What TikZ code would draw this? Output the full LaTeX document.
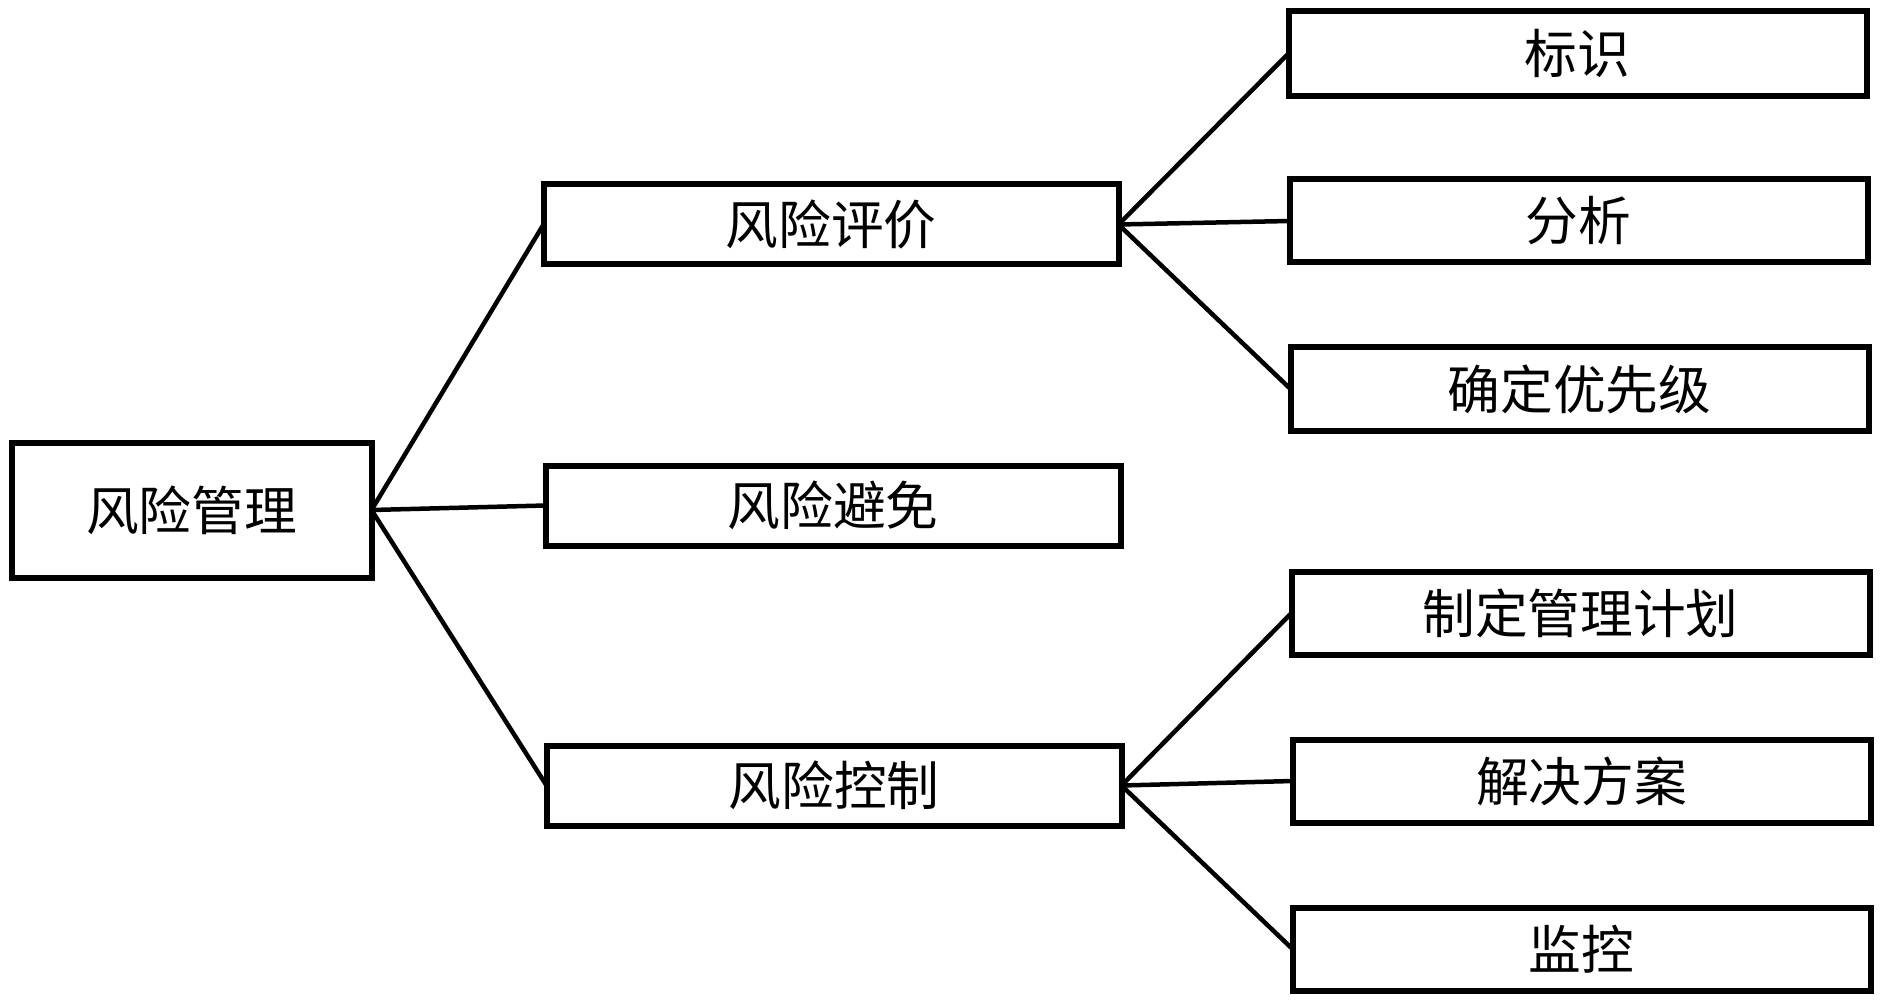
\documentclass[tikz,border=0pt]{standalone}
\usepackage{fontspec}
\setmainfont{Noto Sans CJK SC}
\usetikzlibrary{positioning}

\begin{document}
\begin{tikzpicture}[x=1cm,
y=1cm,
every node/.style={
rectangle,
align = center,
anchor=south west,
inner sep=0pt,
outer sep=0pt,
font=\fontsize{15pt}{18pt}\selectfont,
},
box/.style={
draw,
line width=0.06cm,
},
midbox/.style={
box,
minimum height=0.8cm,
minimum width=5.75cm,
},
leafbox/.style={
box,
minimum height=0.83cm,
minimum width=5.78cm,
},
link/.style={
line width=0.045cm,
}]
\useasboundingbox (0,0) rectangle (18.83,10.04);

%root
\node[box,minimum height=1.35cm,minimum width=3.6cm](risk)at(0.115,4.265){风险管理};

%middle column
\node[midbox](assess)at(5.435,7.395){风险评价};
\node[midbox](avoid)at(5.455,4.585){风险避免};
\node[midbox](control)at(5.465,1.785){风险控制};

%right column
\node[leafbox,minimum height=0.85cm](ident)at(12.885,9.08){标识};
\node[leafbox](analyse)at(12.895,7.415){分析};
\node[leafbox](prior)at(12.905,5.735){确定优先级};
\node[leafbox](plan)at(12.915,3.495){制定管理计划};
\node[leafbox](solve)at(12.925,1.815){解决方案};
\node[leafbox](monitor)at(12.925,0.135){监控};

%links
\draw[link](risk.east)--(assess.west);
\draw[link](risk.east)--(avoid.west);
\draw[link](risk.east)--(control.west);
\draw[link](assess.east)--(ident.west);
\draw[link](assess.east)--(analyse.west);
\draw[link](assess.east)--(prior.west);
\draw[link](control.east)--(plan.west);
\draw[link](control.east)--(solve.west);
\draw[link](control.east)--(monitor.west);
\end{tikzpicture}
\end{document}
